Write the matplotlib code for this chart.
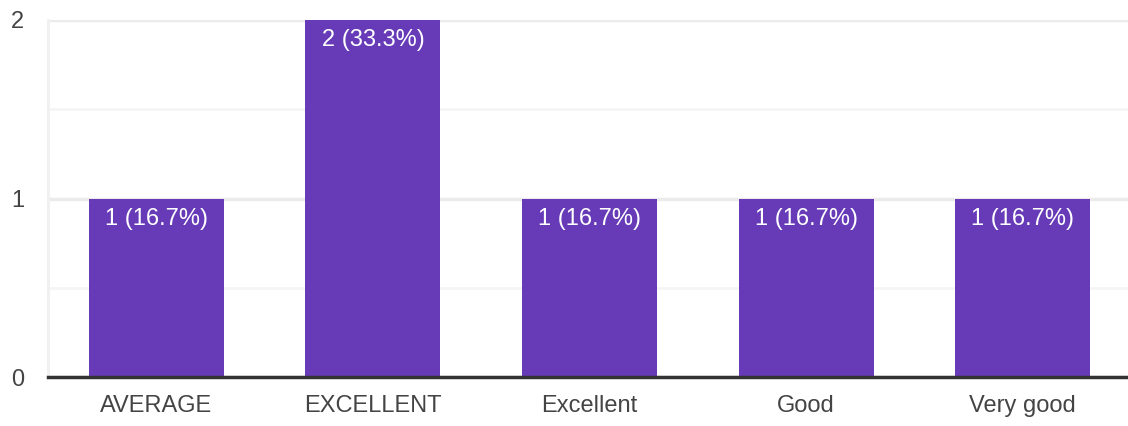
import matplotlib
matplotlib.use("Agg")
import matplotlib.pyplot as plt

categories = ["AVERAGE", "EXCELLENT", "Excellent", "Good", "Very good"]
counts = [1, 2, 1, 1, 1]
labels = ["1 (16.7%)", "2 (33.3%)", "1 (16.7%)", "1 (16.7%)", "1 (16.7%)"]
yticks = [0, 1, 2]

plt.rcParams['font.family'] = ['Liberation Sans', 'DejaVu Sans']

W, H = 1128, 426
fig = plt.figure(figsize=(W / 100, H / 100), dpi=100)
left, right, top, bottom = 48, 1131, 20, 377
ax = fig.add_axes([left / W, 1 - bottom / H, (right - left) / W, (bottom - top) / H])

x = list(range(len(categories)))
bars = ax.bar(x, counts, width=0.623, color="#673ab7", zorder=3)
ax.set_xlim(-0.5, len(categories) - 0.5)
ax.set_ylim(0, 2)

for b, lab in zip(bars, labels):
    ax.annotate(lab, (b.get_x() + b.get_width() / 2, b.get_height()),
                xytext=(0, -6.5), textcoords="offset points", ha="center", va="top",
                color="white", fontsize=17, zorder=4)

ax.set_yticks(yticks)
ax.set_yticks([0.5, 1.5], minor=True)
ax.set_yticklabels([str(v) for v in yticks])
ax.set_xticks(x)
ax.set_xticklabels(categories)
ax.tick_params(axis="both", which="both", length=0, labelsize=17, colors="#444444")
ax.tick_params(axis="y", which="major", pad=17)
ax.tick_params(axis="x", pad=13)

ax.grid(axis="y", which="major", color="#ebebeb", linewidth=2.5, zorder=0)
ax.grid(axis="y", which="minor", color="#f5f5f5", linewidth=2, zorder=0)

for s in ["top", "right"]:
    ax.spines[s].set_visible(False)
ax.spines["left"].set_color("#f0f0f0")
ax.spines["left"].set_linewidth(2)
ax.spines["bottom"].set_color("#333333")
ax.spines["bottom"].set_linewidth(2.5)
ax.spines["bottom"].set_zorder(5)

fig.savefig("out.png", dpi=100)
